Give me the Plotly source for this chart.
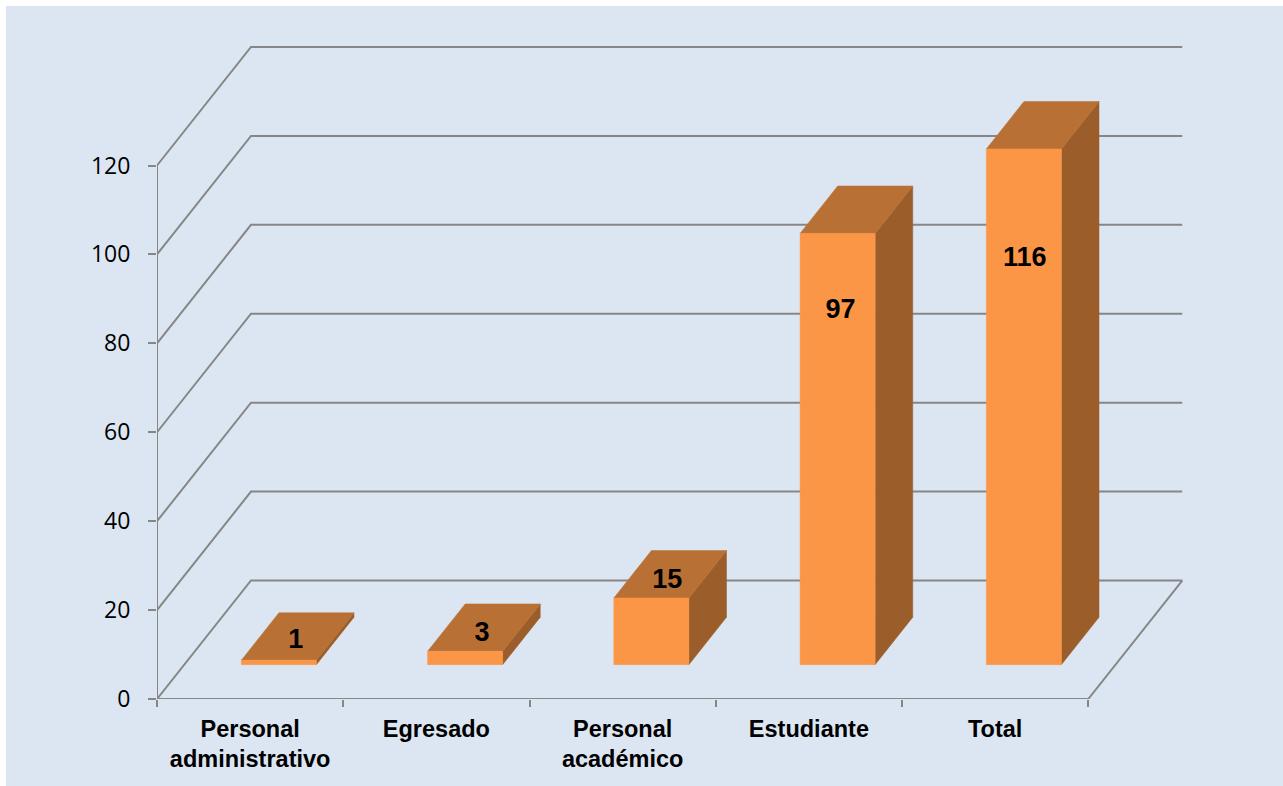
import plotly.graph_objects as go

# ---------- data ----------
categories = ["Personal<br>administrativo", "Egresado", "Personal<br>académico", "Estudiante", "Total"]
values = [1, 3, 15, 97, 116]
y_ticks = [0, 20, 40, 60, 80, 100, 120]
# where each data label sits: height on the value scale, depth fraction of the floor
label_levels = [0.4, 2.0, 14.2, 78.7, 90.9]
label_depths = [0.47, 0.47, 0.46, 0.32, 0.30]

# ---------- oblique projection ----------
W, H = 1283, 786
LEFT, RIGHT, TOP, BOTTOM = 157, 1183, 46, 699
PX_PER_CAT = 186.25
PX_PER_VAL = 533.5 / 120
DEPTH_X = 94 / PX_PER_CAT    # category units for full floor depth
DEPTH_Y = 118.5 / PX_PER_VAL   # value units for full floor depth
BAR_WIDTH = 0.403
BAR_FRONT, BAR_BACK = 0.29, 0.69
CENTER_SHIFT = 0.008


def proj(cat, depth, val):
    return cat + depth * DEPTH_X, val + depth * DEPTH_Y


GRID = "#868686"
FRONT = "#FB9646"
TOPC = "#B97035"
SIDE = "#9B5E2B"
PANEL = "#DCE6F2"

fig = go.Figure()


def line(points, width):
    xy = [proj(*p) for p in points]
    fig.add_trace(go.Scatter(x=[p[0] for p in xy], y=[p[1] for p in xy], mode="lines",
                             line=dict(color=GRID, width=width), cliponaxis=False,
                             hoverinfo="skip", showlegend=False))


def face(points, color):
    xy = [proj(*p) for p in points]
    fig.add_trace(go.Scatter(x=[p[0] for p in xy], y=[p[1] for p in xy], mode="lines",
                             fill="toself", fillcolor=color, line=dict(color=color, width=0.5),
                             cliponaxis=False, hoverinfo="skip", showlegend=False))


n = len(categories)
# walls and floor
for t in y_ticks:
    line([(0, 0, t), (0, 1, t), (n, 1, t)], 2)
line([(0, 0, y_ticks[0]), (0, 0, y_ticks[-1])], 2)
line([(0, 0, 0), (n, 0, 0), (n, 1, 0)], 2)

# bars
for i, v in enumerate(values):
    c = i + 0.5 + CENTER_SHIFT
    l, r = c - BAR_WIDTH / 2, c + BAR_WIDTH / 2
    f, b = BAR_FRONT, BAR_BACK
    face([(r, f, 0), (r, b, 0), (r, b, v), (r, f, v), (r, f, 0)], SIDE)
    face([(l, f, v), (r, f, v), (r, b, v), (l, b, v), (l, f, v)], TOPC)
    face([(l, f, 0), (r, f, 0), (r, f, v), (l, f, v), (l, f, 0)], FRONT)

# data labels
lx, ly = zip(*[proj(i + 0.5 + CENTER_SHIFT, d, lv)
               for i, (d, lv) in enumerate(zip(label_depths, label_levels))])
fig.add_trace(go.Scatter(x=list(lx), y=list(ly), mode="text", text=[str(v) for v in values],
                         textposition="middle center", cliponaxis=False,
                         textfont=dict(family="Liberation Sans", size=27, color="#000000",
                                       weight="bold"),
                         hoverinfo="skip", showlegend=False))

fig.update_layout(
    width=W, height=H,
    margin=dict(l=LEFT, r=W - RIGHT, t=TOP, b=H - BOTTOM, autoexpand=False),
    paper_bgcolor="#FFFFFF", plot_bgcolor="rgba(0,0,0,0)",
    showlegend=False,
    shapes=[dict(type="rect", layer="below", xref="paper", yref="paper", line_width=0,
                 fillcolor=PANEL,
                 x0=(6 - LEFT) / (RIGHT - LEFT), x1=(W - LEFT) / (RIGHT - LEFT),
                 y0=(BOTTOM - H) / (BOTTOM - TOP), y1=(BOTTOM - 6) / (BOTTOM - TOP))],
    xaxis=dict(range=[0, (RIGHT - LEFT) / PX_PER_CAT], showgrid=False, zeroline=False, showline=False,
               tickmode="array", tickvals=[i + 0.5 for i in range(n)], ticktext=categories,
               ticks="", ticklabelstandoff=13, automargin=False,
               tickfont=dict(family="Liberation Sans", size=23.5, color="#000000", weight="bold"),
               minor=dict(tickmode="array", tickvals=list(range(n + 1)), ticks="outside", ticklen=7,
                          tickcolor=GRID, tickwidth=2, showgrid=False)),
    yaxis=dict(range=[0, (BOTTOM - TOP) / PX_PER_VAL], showgrid=False, zeroline=False, showline=False,
               tickmode="array", tickvals=y_ticks, ticktext=[str(t) for t in y_ticks],
               ticks="outside", ticklen=8, tickcolor=GRID, tickwidth=2, automargin=False,
               ticklabelstandoff=13,
               tickfont=dict(family="Open Sans", size=23, color="#000000")),
)

fig.write_html("out.html", config=dict(displayModeBar=False),
               post_script="document.body.style.margin='0';document.documentElement.style.overflow='hidden';")
